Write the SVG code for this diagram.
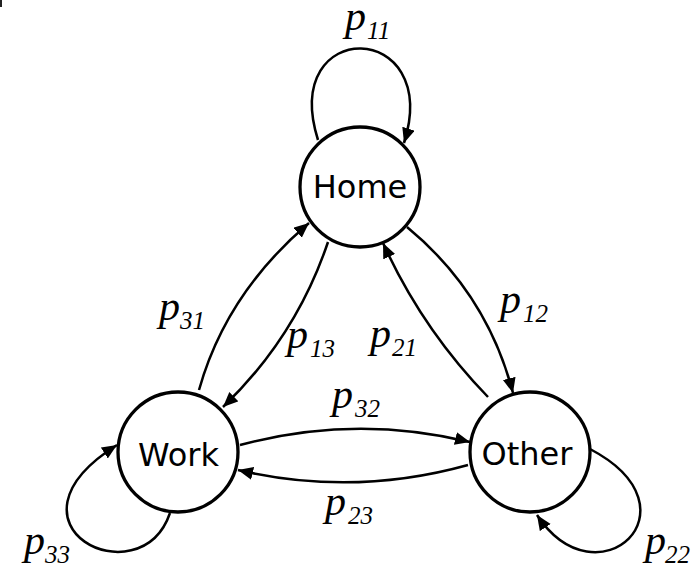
<svg xmlns="http://www.w3.org/2000/svg" width="700" height="564" viewBox="0 0 700 564">
<style>
.node{fill:#fff;stroke:#000;stroke-width:3.3}
.nt{font-family:"DejaVu Sans",sans-serif;font-size:32px;fill:#000;text-anchor:middle}
.e{fill:none;stroke:#000;stroke-width:2.5;marker-end:url(#ah)}
.lp{font-family:"Liberation Serif",serif;font-style:italic;font-size:42px;fill:#000}
.ls{font-family:"Liberation Serif",serif;font-style:italic;font-size:25px;fill:#000}
</style>
<defs>
<marker id="ah" markerUnits="userSpaceOnUse" markerWidth="16" markerHeight="14" refX="15" refY="6.5" orient="auto">
<path d="M0,0 L15,6.5 L0,13 z" fill="#000"/>
</marker>
</defs>
<rect x="0" y="0" width="2" height="7" fill="#222"/>
<g id="connectors">
<path class="e" d="M318,140 C279,16 443,19 404,143"/>
<path class="e" d="M407,227 Q487,293 513,393"/>
<path class="e" d="M488,397 Q422,329 383,243"/>
<path class="e" d="M328,242 Q296,337 223,407"/>
<path class="e" d="M199,390 Q226,293.5 309,223"/>
<path class="e" d="M240,445 Q355,414 470,442"/>
<path class="e" d="M468,465 Q353,497 238,470"/>
<path class="e" d="M170,513 C140,600 -10,525 117,445"/>
<path class="e" d="M590,449 C704,509 597,606 537,515"/>
</g>
<g id="home"><circle class="node" cx="360" cy="187" r="60"/><text class="nt" x="360" y="198">Home</text></g>
<g id="work"><circle class="node" cx="178" cy="452" r="60"/><text class="nt" x="178.5" y="466">Work</text></g>
<g id="other"><circle class="node" cx="530" cy="452" r="60"/><text class="nt" x="527" y="465">Other</text></g>
<g id="labels">
<text><tspan class="lp" x="345" y="30">p</tspan><tspan class="ls" x="367" y="39">11</tspan></text>
<text><tspan class="lp" x="159" y="320">p</tspan><tspan class="ls" x="180" y="329">31</tspan></text>
<text><tspan class="lp" x="287" y="348">p</tspan><tspan class="ls" x="310" y="357">13</tspan></text>
<text><tspan class="lp" x="370" y="347">p</tspan><tspan class="ls" x="392" y="356">21</tspan></text>
<text><tspan class="lp" x="500" y="313">p</tspan><tspan class="ls" x="523" y="322">12</tspan></text>
<text><tspan class="lp" x="332" y="408">p</tspan><tspan class="ls" x="355" y="417">32</tspan></text>
<text><tspan class="lp" x="325" y="515">p</tspan><tspan class="ls" x="348" y="524">23</tspan></text>
<text><tspan class="lp" x="24" y="554">p</tspan><tspan class="ls" x="45" y="563">33</tspan></text>
<text><tspan class="lp" x="645" y="554">p</tspan><tspan class="ls" x="665" y="563">22</tspan></text>
</g>
</svg>
